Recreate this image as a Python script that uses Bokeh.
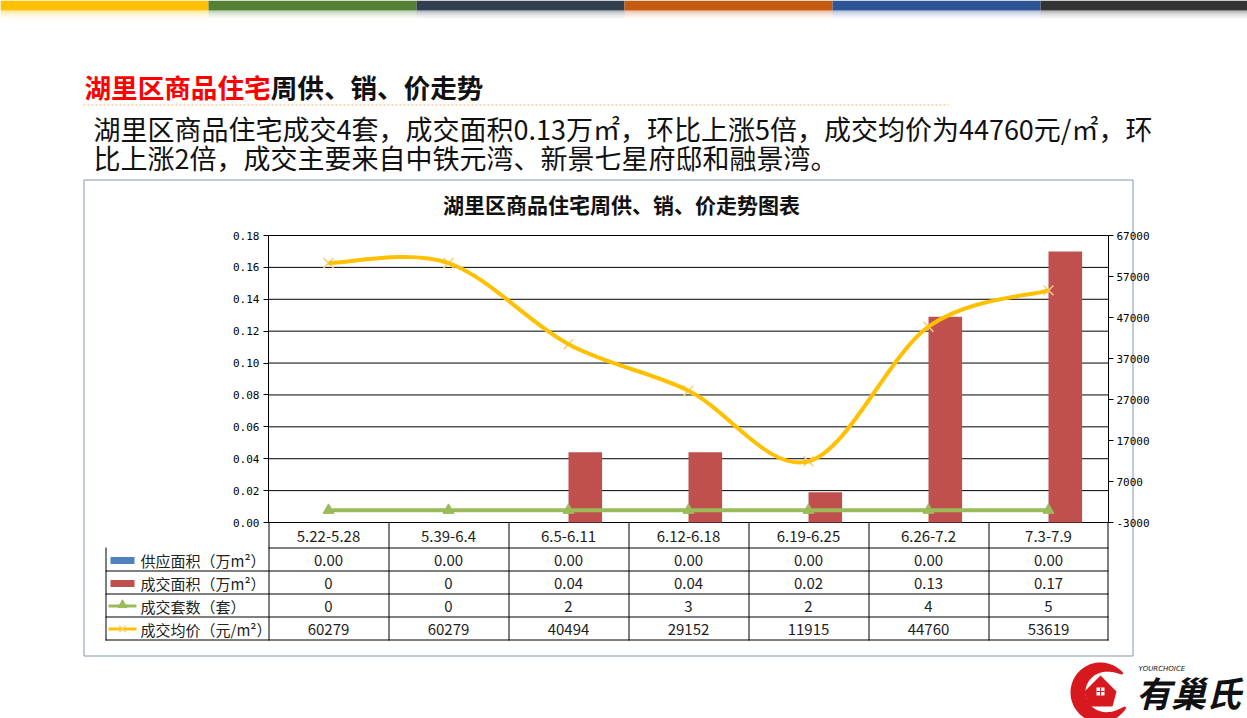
import numpy as np
from bokeh.plotting import figure
from bokeh.models import Range1d, LinearAxis, FixedTicker, PrintfTickFormatter
from bokeh.core.properties import value
from bokeh.embed import file_html
from bokeh.resources import INLINE

# ---------------- data ----------------
categories = ["5.22-5.28", "5.39-6.4", "6.5-6.11", "6.12-6.18", "6.19-6.25", "6.26-7.2", "7.3-7.9"]
supply_area = [0.0, 0.0, 0.0, 0.0, 0.0, 0.0, 0.0]          # 供应面积（万m²）
deal_area = [0.0, 0.0, 0.044, 0.044, 0.019, 0.129, 0.17]   # 成交面积（万m²）
deal_units = [0, 0, 2, 3, 2, 4, 5]                         # 成交套数（套）
avg_price = [60279, 60279, 40494, 29152, 11915, 44760, 53619]  # 成交均价（元/m²）
left_ticks = [0.0, 0.02, 0.04, 0.06, 0.08, 0.10, 0.12, 0.14, 0.16, 0.18]
right_ticks = [-3000, 7000, 17000, 27000, 37000, 47000, 57000, 67000]
series_names = ["供应面积（万m²）", "成交面积（万m²）", "成交套数（套）", "成交均价（元/m²）"]

heading_red = "湖里区商品住宅"
heading_black = "周供、销、价走势"
para_lines = ["湖里区商品住宅成交4套，成交面积0.13万㎡，环比上涨5倍，成交均价为44760元/㎡，环",
              "比上涨2倍，成交主要来自中铁元湾、新景七星府邸和融景湾。"]
chart_title = "湖里区商品住宅周供、销、价走势图表"

# ---------------- layout (page pixels) ----------------
W, H = 1247, 718
PL, PR, PT, PB = 268, 1108, 235, 522
CJK = "Noto Sans CJK SC"
BLUE, RED, GREEN, GOLD = "#4F81BD", "#C0504D", "#9BBB59", "#FFC000"

n = len(categories)
col_px = (PR - PL) / n

# page-coordinate figure; the chart uses its own ranges mapped onto the plot area
p = figure(width=W, height=H, x_range=Range1d(0, W), y_range=Range1d(H, 0),
           output_backend="svg", toolbar_location=None,
           x_axis_location=None, y_axis_location=None, min_border=0,
           outline_line_color=None, background_fill_color="white",
           border_fill_color="white")
p.grid.visible = False

kL = (left_ticks[-1] - left_ticks[0]) / (PB - PT)
kR = (right_ticks[-1] - right_ticks[0]) / (PB - PT)
p.extra_y_ranges = {
    "left": Range1d(left_ticks[0] - (H - PB) * kL, left_ticks[-1] + PT * kL),
    "price": Range1d(right_ticks[0] - (H - PB) * kR, right_ticks[-1] + PT * kR),
}
p.extra_x_ranges = {"cat": Range1d(-0.5 - PL / col_px, n - 0.5 + (W - PR) / col_px)}

# axes
la = LinearAxis(y_range_name="left", fixed_location=PL,
                bounds=(left_ticks[0], left_ticks[-1]),
                ticker=FixedTicker(ticks=left_ticks),
                formatter=PrintfTickFormatter(format="%.2f"))
ra = LinearAxis(y_range_name="price", fixed_location=PR,
                bounds=(right_ticks[0], right_ticks[-1]),
                ticker=FixedTicker(ticks=right_ticks),
                formatter=PrintfTickFormatter(format="%d"))
p.add_layout(la, "left")
p.add_layout(ra, "right")
for ax, so in [(la, 4), (ra, 3)]:
    ax.major_label_text_font = "DejaVu Sans Mono"
    ax.major_label_text_font_size = "11px"
    ax.major_label_text_color = "#000000"
    ax.major_tick_out = 5
    ax.major_tick_in = 0
    ax.minor_tick_line_color = None
    ax.axis_line_color = "black"
    ax.major_tick_line_color = "black"
    ax.major_label_standoff = so

# horizontal grid lines of the left axis
p.segment(x0=[-0.5] * len(left_ticks), x1=[n - 0.5] * len(left_ticks),
          y0=left_ticks, y1=left_ticks, x_range_name="cat", y_range_name="left",
          line_color="black", line_width=1)

xs = np.arange(n)
bw = 0.28
p.vbar(x=xs - bw / 2, top=supply_area, width=bw, fill_color=BLUE, line_alpha=0,
       x_range_name="cat", y_range_name="left")
p.vbar(x=xs + bw / 2, top=deal_area, width=bw, fill_color=RED, line_alpha=0,
       x_range_name="cat", y_range_name="left")

p.line(xs, deal_units, x_range_name="cat", y_range_name="price",
       line_color=GREEN, line_width=4)
p.scatter(xs, deal_units, x_range_name="cat", y_range_name="price",
          marker="triangle", size=11, fill_color=GREEN, line_color=GREEN)

# smoothed price curve (Excel-style Bezier smoothing through the data points)
P = np.array(avg_price, dtype=float)
X = xs.astype(float)
Pm = np.concatenate([[P[0]], P, [P[-1]]])
Xm = np.concatenate([[X[0]], X, [X[-1]]])
x0, y0 = Xm[1:-2], Pm[1:-2]
x1, y1 = Xm[2:-1], Pm[2:-1]
cx0 = x0 + (Xm[2:-1] - Xm[0:-3]) / 6
cy0 = y0 + (Pm[2:-1] - Pm[0:-3]) / 6
cx1 = x1 - (Xm[3:] - Xm[1:-2]) / 6
cy1 = y1 - (Pm[3:] - Pm[1:-2]) / 6
p.scatter(xs, avg_price, x_range_name="cat", y_range_name="price", marker="x",
          size=14, line_color="#F2CF7E", line_width=1.5)
p.bezier(x0=x0, y0=y0, x1=x1, y1=y1, cx0=cx0, cy0=cy0, cx1=cx1, cy1=cy1,
         x_range_name="cat", y_range_name="price", line_color=GOLD, line_width=4)


# ---------------- page decoration helpers (page pixels) ----------------
def rect(l, r, t, b, fill, alpha=1.0):
    p.quad(left=[l], right=[r], top=[t], bottom=[b], fill_color=fill,
           fill_alpha=alpha, line_alpha=0)


def hline(x0_, x1_, y, color="black", width=1, dash="solid"):
    p.line([x0_, x1_], [y, y], line_color=color, line_width=width, line_dash=dash)


def vline(x, y0_, y1_, color="black", width=1):
    p.line([x, x], [y0_, y1_], line_color=color, line_width=width)


def text(x, y, s, size="14px", color="#222222", align="left", style="normal", font=CJK):
    p.text(x=[x], y=[y], text=[s], text_font=value(font), text_font_size=size,
           text_color=color, text_align=align, text_baseline="middle",
           text_font_style=style)


# top colour bars
bar_cols = ["#FFC000", "#548235", "#323F4F", "#C55A11", "#2F5597", "#333333"]
edges = [0, 208, 416, 624, 832, 1040, W]
for i, c in enumerate(bar_cols):
    rect(edges[i], edges[i + 1], 0, 10, c)
    for k, a in enumerate([0.35, 0.22, 0.12, 0.06]):
        rect(edges[i], edges[i + 1], 10 + 2 * k, 12 + 2 * k, c, a)

# heading and paragraph
HS = 26.6
text(84, 86, heading_red, size=f"{HS}px", color="#FF0000", style="bold")
text(84 + HS * len(heading_red), 86, heading_black, size=f"{HS}px", color="#111111", style="bold")
hline(83, 948, 104.5, color="#F0B266", dash="2 2")
text(93, 128, para_lines[0], size="27px", color="#111111")
text(93, 157, para_lines[1], size="27px", color="#111111")

# chart box + title
p.quad(left=[83.5], right=[1132.5], top=[179.5], bottom=[655.5], fill_alpha=0,
       line_color="#8496B0", line_width=1)
text(621, 203, chart_title, size="21px", color="#111111", align="center", style="bold")

# data table
row_y = [PB, 547, 570, 593, 616, 639]
TL = 105
hline(PL, PR, row_y[1] + 0.5)
for yy in row_y[2:]:
    hline(TL, PR, yy + 0.5)
vline(TL + 0.5, row_y[1], row_y[-1] + 1)
for i in range(n + 1):
    xx = PL + i * col_px
    vline(xx + 0.5 if i < n else xx - 0.5, PB, row_y[-1] + 1)

row_texts = [
    [f"{v:.2f}" for v in supply_area],
    ["0" if v == 0 else f"{v:.2f}" for v in deal_area],
    [str(v) for v in deal_units],
    [str(v) for v in avg_price],
]
for i, c in enumerate(categories):
    cx = PL + (i + 0.5) * col_px
    text(cx, (row_y[0] + row_y[1]) / 2 + 1, c, size="15px", align="center")
    for r in range(4):
        text(cx, (row_y[r + 1] + row_y[r + 2]) / 2 + 1, row_texts[r][i], size="15px", align="center")

# legend keys in the table
for r in range(4):
    cy = (row_y[r + 1] + row_y[r + 2]) / 2 + 1
    text(140, cy, series_names[r], size="15px")
    if r == 0:
        rect(110, 134, cy - 3, cy + 4, BLUE)
    elif r == 1:
        rect(110, 134, cy - 3, cy + 4, RED)
    elif r == 2:
        hline(108, 136, cy, color=GREEN, width=3)
        p.scatter([122], [cy - 1], marker="triangle", size=9, fill_color=GREEN, line_color=GREEN)
    else:
        hline(108, 136, cy, color=GOLD, width=3)
        p.scatter([122], [cy], marker="x", size=9, line_color="#F2CF7E", line_width=1.5)

# logo
cxl, cyl = 1100, 692
th = np.linspace(np.radians(40), np.radians(330), 70)
frac = (th - th[0]) / (th[-1] - th[0])
thick = 2 + 13 * np.sin(np.pi * frac) ** 0.7
ro = 30.0
ox = cxl + ro * np.cos(th)
oy = cyl - ro * np.sin(th)
ix = cxl + (ro - thick) * np.cos(th)
iy = cyl - (ro - thick) * np.sin(th)
p.patch(np.concatenate([ox, ix[::-1]]), np.concatenate([oy, iy[::-1]]),
        fill_color="#D7191F", line_alpha=0)
p.patch([1100, 1084, 1088, 1112, 1116], [675, 691, 706, 706, 691],
        fill_color="#D7191F", line_alpha=0)
rect(1096, 1104, 687, 695, "white")
rect(1099.5, 1100.5, 687, 695, "#D7191F")
rect(1096, 1104, 690.5, 691.5, "#D7191F")
text(1188, 691, "有巢氏", size="35px", color="#111111", align="center", style="bold italic")
text(1138, 668, "YOURCHOICE", size="7px", color="#111111", style="italic", font="DejaVu Sans")

open("out.html", "w").write(file_html(p, INLINE))
